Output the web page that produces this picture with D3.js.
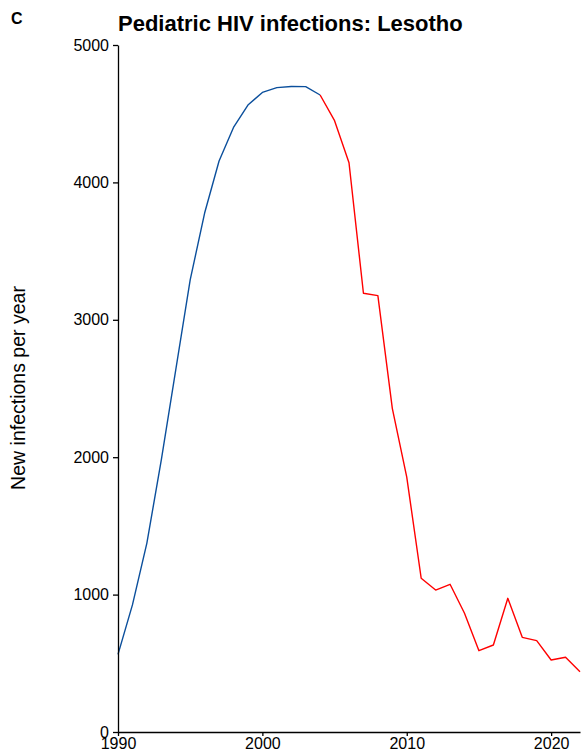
<!DOCTYPE html>
<html>
<head>
<meta charset="utf-8">
<script src="https://cdn.jsdelivr.net/npm/d3@7"></script>
<style>
  html, body { margin: 0; padding: 0; background: #fff; }
  svg { display: block; font-family: "Liberation Sans", Arial, Helvetica, sans-serif; }
</style>
</head>
<body>
<svg id="chart" width="586" height="756"></svg>
<script>
// Annual new pediatric HIV infections, Lesotho
const years = [1990, 1991, 1992, 1993, 1994, 1995, 1996, 1997, 1998, 1999, 2000,
               2001, 2002, 2003, 2004, 2005, 2006, 2007, 2008, 2009, 2010, 2011,
               2012, 2013, 2014, 2015, 2016, 2017, 2018, 2019, 2020, 2021, 2022];
const infections = [565, 925, 1375, 1980, 2635, 3290, 3777, 4156, 4400, 4563, 4655,
                    4690, 4698, 4697, 4636, 4449, 4143, 3193, 3176, 2356, 1855, 1119,
                    1033, 1075, 864, 592, 633, 973, 689, 665, 524, 544, 439];
// Year at which the series switches colour
const splitYear = 2004;
const yTicks = [0, 1000, 2000, 3000, 4000, 5000];
const xTicks = [1990, 2000, 2010, 2020];

const svg = d3.select("#chart");
const plotLeft = 118, plotRight = 580, plotTop = 45, plotBottom = 732;

const x = d3.scaleLinear().domain([1990, 2022]).range([plotLeft, plotRight]);
const y = d3.scaleLinear().domain([0, 5000]).range([plotBottom, plotTop]);

const data = years.map((yr, i) => ({ year: yr, value: infections[i] }));
const early = data.filter(d => d.year <= splitYear);
const late = data.filter(d => d.year >= splitYear);

const line = d3.line().x(d => x(d.year)).y(d => y(d.value));

svg.append("path").datum(early).attr("d", line)
  .attr("fill", "none").attr("stroke", "#0b4f9c").attr("stroke-width", 1.4)
  .attr("stroke-linejoin", "round");
svg.append("path").datum(late).attr("d", line)
  .attr("fill", "none").attr("stroke", "#ff0000").attr("stroke-width", 1.4)
  .attr("stroke-linejoin", "round");

// Axes
const yAxis = svg.append("g").attr("transform", `translate(${plotLeft},0)`)
  .call(d3.axisLeft(y).tickValues(yTicks).tickFormat(d3.format("d"))
    .tickSize(5).tickPadding(4).tickSizeOuter(0));
const xAxis = svg.append("g").attr("transform", `translate(0,${plotBottom})`)
  .call(d3.axisBottom(x).tickValues(xTicks).tickFormat(d3.format("d"))
    .tickSize(4).tickPadding(2).tickSizeOuter(0));

[yAxis, xAxis].forEach(g => {
  g.select(".domain").attr("stroke", "#000").attr("stroke-width", 1.3);
  g.selectAll(".tick line").attr("stroke", "#000").attr("stroke-width", 1.3);
  g.selectAll(".tick text").attr("fill", "#000")
    .style("font-size", "16px").style("font-family", "Liberation Sans, Arial, sans-serif");
});

// Axis title
svg.append("text")
  .attr("transform", "translate(25,388) rotate(-90)")
  .attr("text-anchor", "middle")
  .style("font-size", "19.5px")
  .text("New infections per year");

// Chart title and panel letter
svg.append("text")
  .attr("x", 118).attr("y", 31)
  .style("font-size", "22px").style("font-weight", "bold")
  .text("Pediatric HIV infections: Lesotho");
svg.append("text")
  .attr("x", 11).attr("y", 24)
  .style("font-size", "16px").style("font-weight", "bold")
  .text("C");
</script>
</body>
</html>
